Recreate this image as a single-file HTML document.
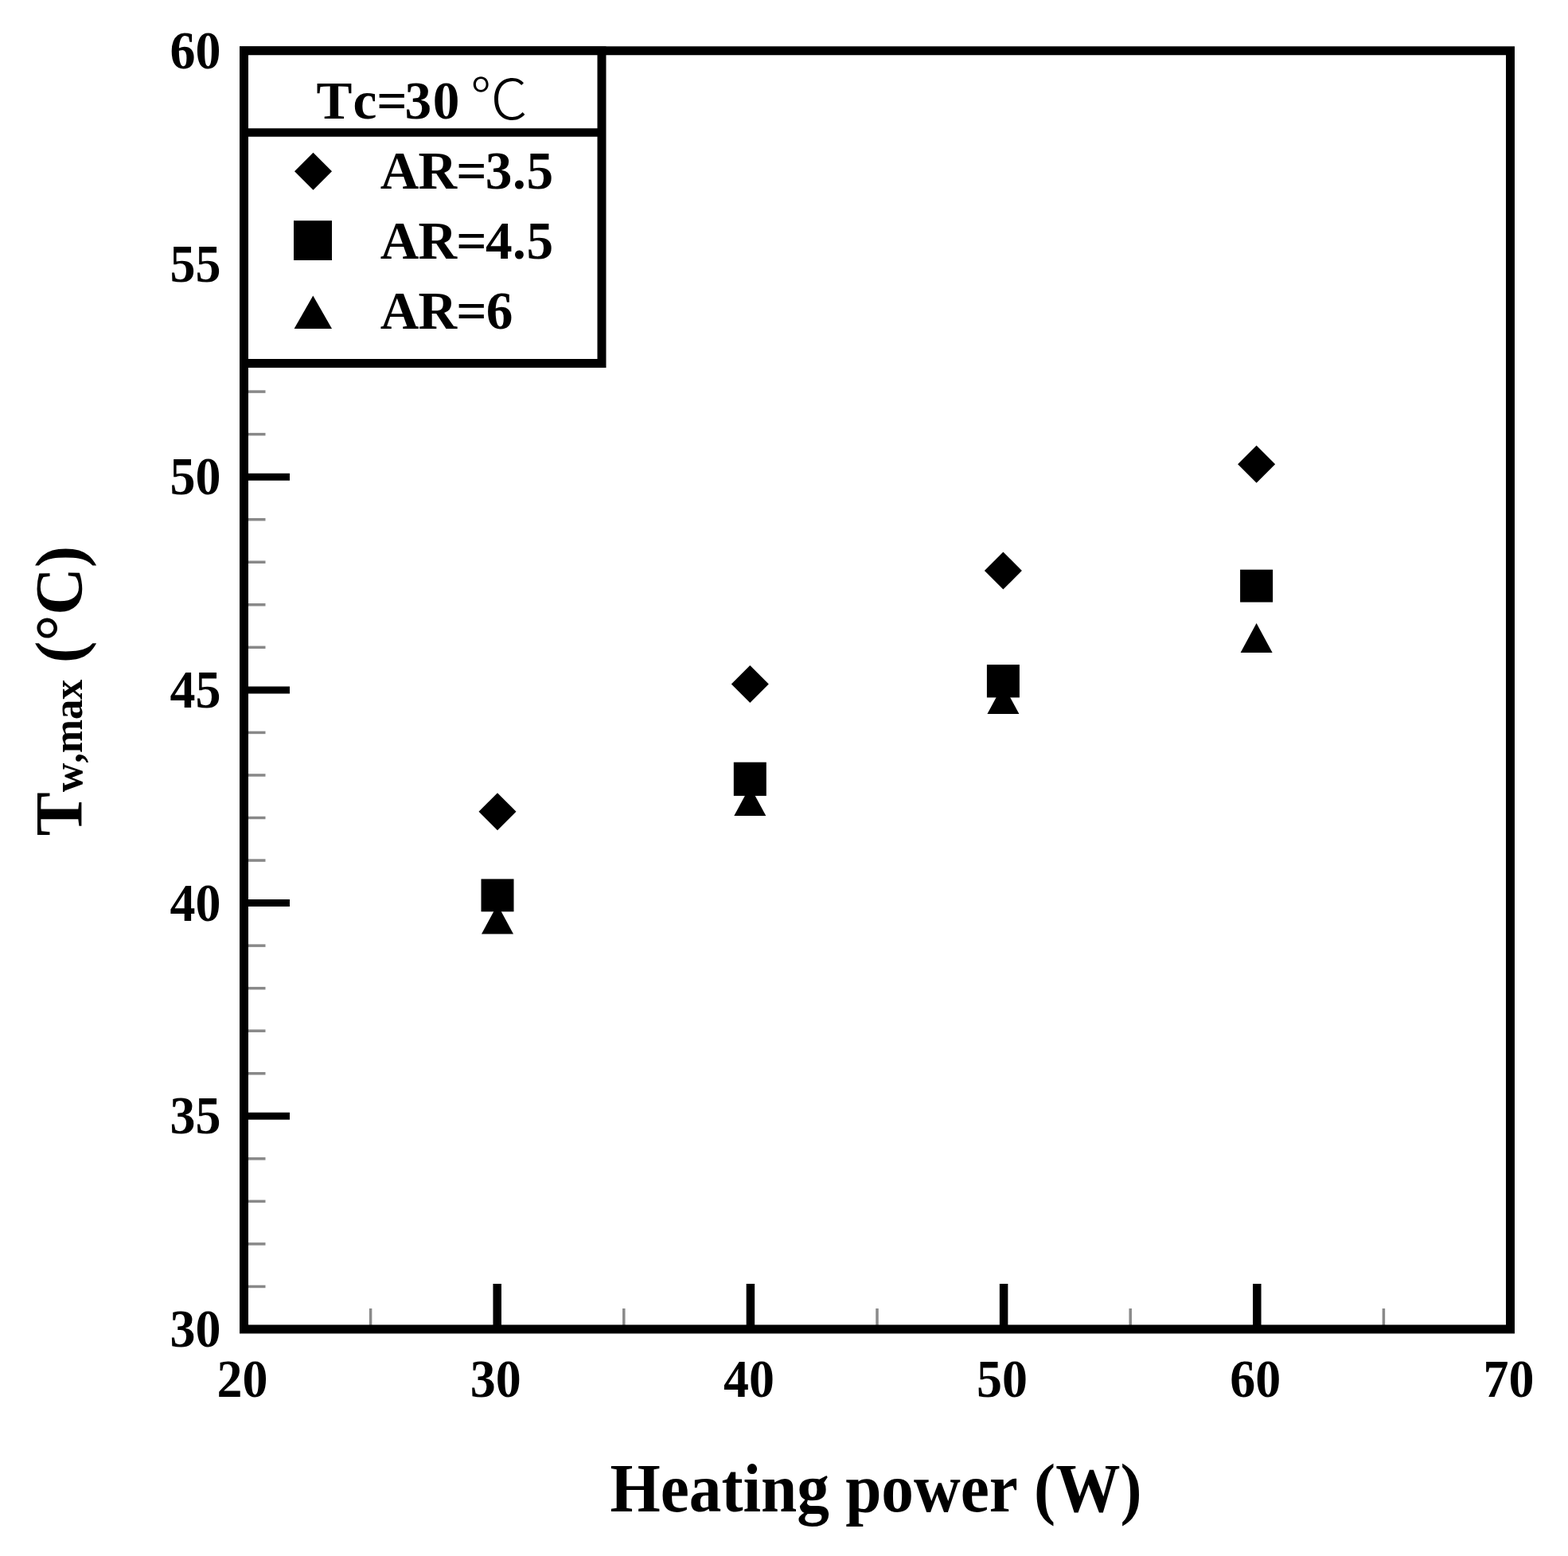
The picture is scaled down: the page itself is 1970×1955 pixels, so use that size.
<!DOCTYPE html>
<html><head><meta charset="utf-8"><title>Tw,max vs Heating power</title>
<style>
html,body{margin:0;padding:0;background:#fff;}
body{width:1970px;height:1955px;overflow:hidden;}
svg{display:block;}
text{font-family:"Liberation Serif","Times New Roman",serif;font-weight:bold;fill:#000;font-kerning:none;}
.tl{font-size:67px;}
.lg{font-size:67.3px;}
.ax{font-size:85px;}
.deg{font-family:"Noto Sans CJK SC","Noto Sans CJK JP",sans-serif;font-weight:300;font-size:70px;}
</style></head>
<body>
<svg width="1970" height="1955" viewBox="0 0 1970 1955">
<rect width="1970" height="1955" fill="#fff"/>
<line x1="312" y1="1616.46" x2="333.5" y2="1616.46" stroke="#888" stroke-width="3.5"/>
<line x1="312" y1="1562.92" x2="333.5" y2="1562.92" stroke="#888" stroke-width="3.5"/>
<line x1="312" y1="1509.38" x2="333.5" y2="1509.38" stroke="#888" stroke-width="3.5"/>
<line x1="312" y1="1455.83" x2="333.5" y2="1455.83" stroke="#888" stroke-width="3.5"/>
<line x1="312" y1="1348.75" x2="333.5" y2="1348.75" stroke="#888" stroke-width="3.5"/>
<line x1="312" y1="1295.21" x2="333.5" y2="1295.21" stroke="#888" stroke-width="3.5"/>
<line x1="312" y1="1241.67" x2="333.5" y2="1241.67" stroke="#888" stroke-width="3.5"/>
<line x1="312" y1="1188.12" x2="333.5" y2="1188.12" stroke="#888" stroke-width="3.5"/>
<line x1="312" y1="1081.04" x2="333.5" y2="1081.04" stroke="#888" stroke-width="3.5"/>
<line x1="312" y1="1027.50" x2="333.5" y2="1027.50" stroke="#888" stroke-width="3.5"/>
<line x1="312" y1="973.96" x2="333.5" y2="973.96" stroke="#888" stroke-width="3.5"/>
<line x1="312" y1="920.42" x2="333.5" y2="920.42" stroke="#888" stroke-width="3.5"/>
<line x1="312" y1="813.33" x2="333.5" y2="813.33" stroke="#888" stroke-width="3.5"/>
<line x1="312" y1="759.79" x2="333.5" y2="759.79" stroke="#888" stroke-width="3.5"/>
<line x1="312" y1="706.25" x2="333.5" y2="706.25" stroke="#888" stroke-width="3.5"/>
<line x1="312" y1="652.71" x2="333.5" y2="652.71" stroke="#888" stroke-width="3.5"/>
<line x1="312" y1="545.62" x2="333.5" y2="545.62" stroke="#888" stroke-width="3.5"/>
<line x1="312" y1="492.08" x2="333.5" y2="492.08" stroke="#888" stroke-width="3.5"/>
<line x1="312" y1="438.54" x2="333.5" y2="438.54" stroke="#888" stroke-width="3.5"/>
<line x1="312" y1="385.00" x2="333.5" y2="385.00" stroke="#888" stroke-width="3.5"/>
<line x1="312" y1="277.92" x2="333.5" y2="277.92" stroke="#888" stroke-width="3.5"/>
<line x1="312" y1="224.38" x2="333.5" y2="224.38" stroke="#888" stroke-width="3.5"/>
<line x1="312" y1="170.83" x2="333.5" y2="170.83" stroke="#888" stroke-width="3.5"/>
<line x1="312" y1="117.29" x2="333.5" y2="117.29" stroke="#888" stroke-width="3.5"/>
<line x1="306" y1="1402.29" x2="364" y2="1402.29" stroke="#000" stroke-width="9"/>
<line x1="306" y1="1134.58" x2="364" y2="1134.58" stroke="#000" stroke-width="9"/>
<line x1="306" y1="866.88" x2="364" y2="866.88" stroke="#000" stroke-width="9"/>
<line x1="306" y1="599.17" x2="364" y2="599.17" stroke="#000" stroke-width="9"/>
<line x1="306" y1="331.46" x2="364" y2="331.46" stroke="#000" stroke-width="9"/>
<line x1="465.60" y1="1666" x2="465.60" y2="1644" stroke="#8a8a8a" stroke-width="3.5"/>
<line x1="783.80" y1="1666" x2="783.80" y2="1644" stroke="#8a8a8a" stroke-width="3.5"/>
<line x1="1102.00" y1="1666" x2="1102.00" y2="1644" stroke="#8a8a8a" stroke-width="3.5"/>
<line x1="1420.20" y1="1666" x2="1420.20" y2="1644" stroke="#8a8a8a" stroke-width="3.5"/>
<line x1="1738.40" y1="1666" x2="1738.40" y2="1644" stroke="#8a8a8a" stroke-width="3.5"/>
<line x1="624.70" y1="1668" x2="624.70" y2="1613" stroke="#000" stroke-width="10.5"/>
<line x1="942.90" y1="1668" x2="942.90" y2="1613" stroke="#000" stroke-width="10.5"/>
<line x1="1261.10" y1="1668" x2="1261.10" y2="1613" stroke="#000" stroke-width="10.5"/>
<line x1="1579.30" y1="1668" x2="1579.30" y2="1613" stroke="#000" stroke-width="10.5"/>
<rect x="306.5" y="63.75" width="1591" height="1606.25" fill="none" stroke="#000" stroke-width="11"/>
<rect x="306.5" y="63.75" width="449.5" height="392.75" fill="#fff" stroke="#000" stroke-width="11"/>
<line x1="306.5" y1="166.5" x2="756" y2="166.5" stroke="#000" stroke-width="10.5"/>
<text y="148.7" class="lg" x="397.6 443.6 473.2 508.6 543.8">Tc=30</text>
<text transform="translate(590.5 150.4) scale(1.04 1)" class="deg">℃</text>
<path d="M393.5 191.8L417 215.3L393.5 238.8L370 215.3Z"/>
<rect x="369" y="277.2" width="48" height="49.8"/>
<path d="M393.3 371.4L417 413L369.6 413Z"/>
<text y="237" class="lg" x="477.8 525.4 573.3 609.8 644.1 661.4">AR=3.5</text>
<text y="325.2" class="lg" x="477.8 525.4 573.3 610.1 644.1 661.4">AR=4.5</text>
<text y="413" class="lg" x="477.8 525.4 573.3 610.7">AR=6</text>
<g>
<path d="M625.0 996.2L648.5 1019.7L625.0 1043.2L601.5 1019.7Z"/>
<rect x="604.5" y="1104.4" width="41.0" height="41.0"/>
<path d="M625.0 1136.4L645.0 1173.4L605.0 1173.4Z"/>
<path d="M942.3 836.1L965.8 859.6L942.3 883.1L918.8 859.6Z"/>
<rect x="921.8" y="957.7" width="41.0" height="42.2"/>
<path d="M942.3 988.0L962.3 1025.0L922.3 1025.0Z"/>
<path d="M1260.4 693.5L1283.9 717.0L1260.4 740.5L1236.9 717.0Z"/>
<rect x="1239.9" y="835.1" width="41.0" height="41.3"/>
<path d="M1260.4 860.0L1280.4 897.0L1240.4 897.0Z"/>
<path d="M1578.6 559.8L1602.1 583.3L1578.6 606.8L1555.1 583.3Z"/>
<rect x="1558.1" y="715.7" width="41.0" height="40.9"/>
<path d="M1578.6 783.0L1598.6 820.0L1558.6 820.0Z"/>
</g>
<text transform="translate(277.5 1692.20) scale(0.955 1)" text-anchor="end" class="tl">30</text>
<text transform="translate(277.5 1424.49) scale(0.955 1)" text-anchor="end" class="tl">35</text>
<text transform="translate(277.5 1156.78) scale(0.955 1)" text-anchor="end" class="tl">40</text>
<text transform="translate(277.5 889.08) scale(0.955 1)" text-anchor="end" class="tl">45</text>
<text transform="translate(277.5 621.37) scale(0.955 1)" text-anchor="end" class="tl">50</text>
<text transform="translate(277.5 353.66) scale(0.955 1)" text-anchor="end" class="tl">55</text>
<text transform="translate(277.5 85.95) scale(0.955 1)" text-anchor="end" class="tl">60</text>
<text transform="translate(304.50 1755.3) scale(0.955 1)" text-anchor="middle" class="tl">20</text>
<text transform="translate(622.70 1755.3) scale(0.955 1)" text-anchor="middle" class="tl">30</text>
<text transform="translate(940.90 1755.3) scale(0.955 1)" text-anchor="middle" class="tl">40</text>
<text transform="translate(1259.10 1755.3) scale(0.955 1)" text-anchor="middle" class="tl">50</text>
<text transform="translate(1577.30 1755.3) scale(0.955 1)" text-anchor="middle" class="tl">60</text>
<text transform="translate(1895.50 1755.3) scale(0.955 1)" text-anchor="middle" class="tl">70</text>
<text transform="translate(1100.5 1899) scale(0.945 1)" text-anchor="middle" class="ax" style="font-size:86px">Heating power (W)</text>
<text transform="translate(103 867.9) rotate(-90) scale(0.97 1)" text-anchor="middle" class="ax">T<tspan font-size="52">w,max</tspan> (°C)</text>
</svg>
</body></html>
